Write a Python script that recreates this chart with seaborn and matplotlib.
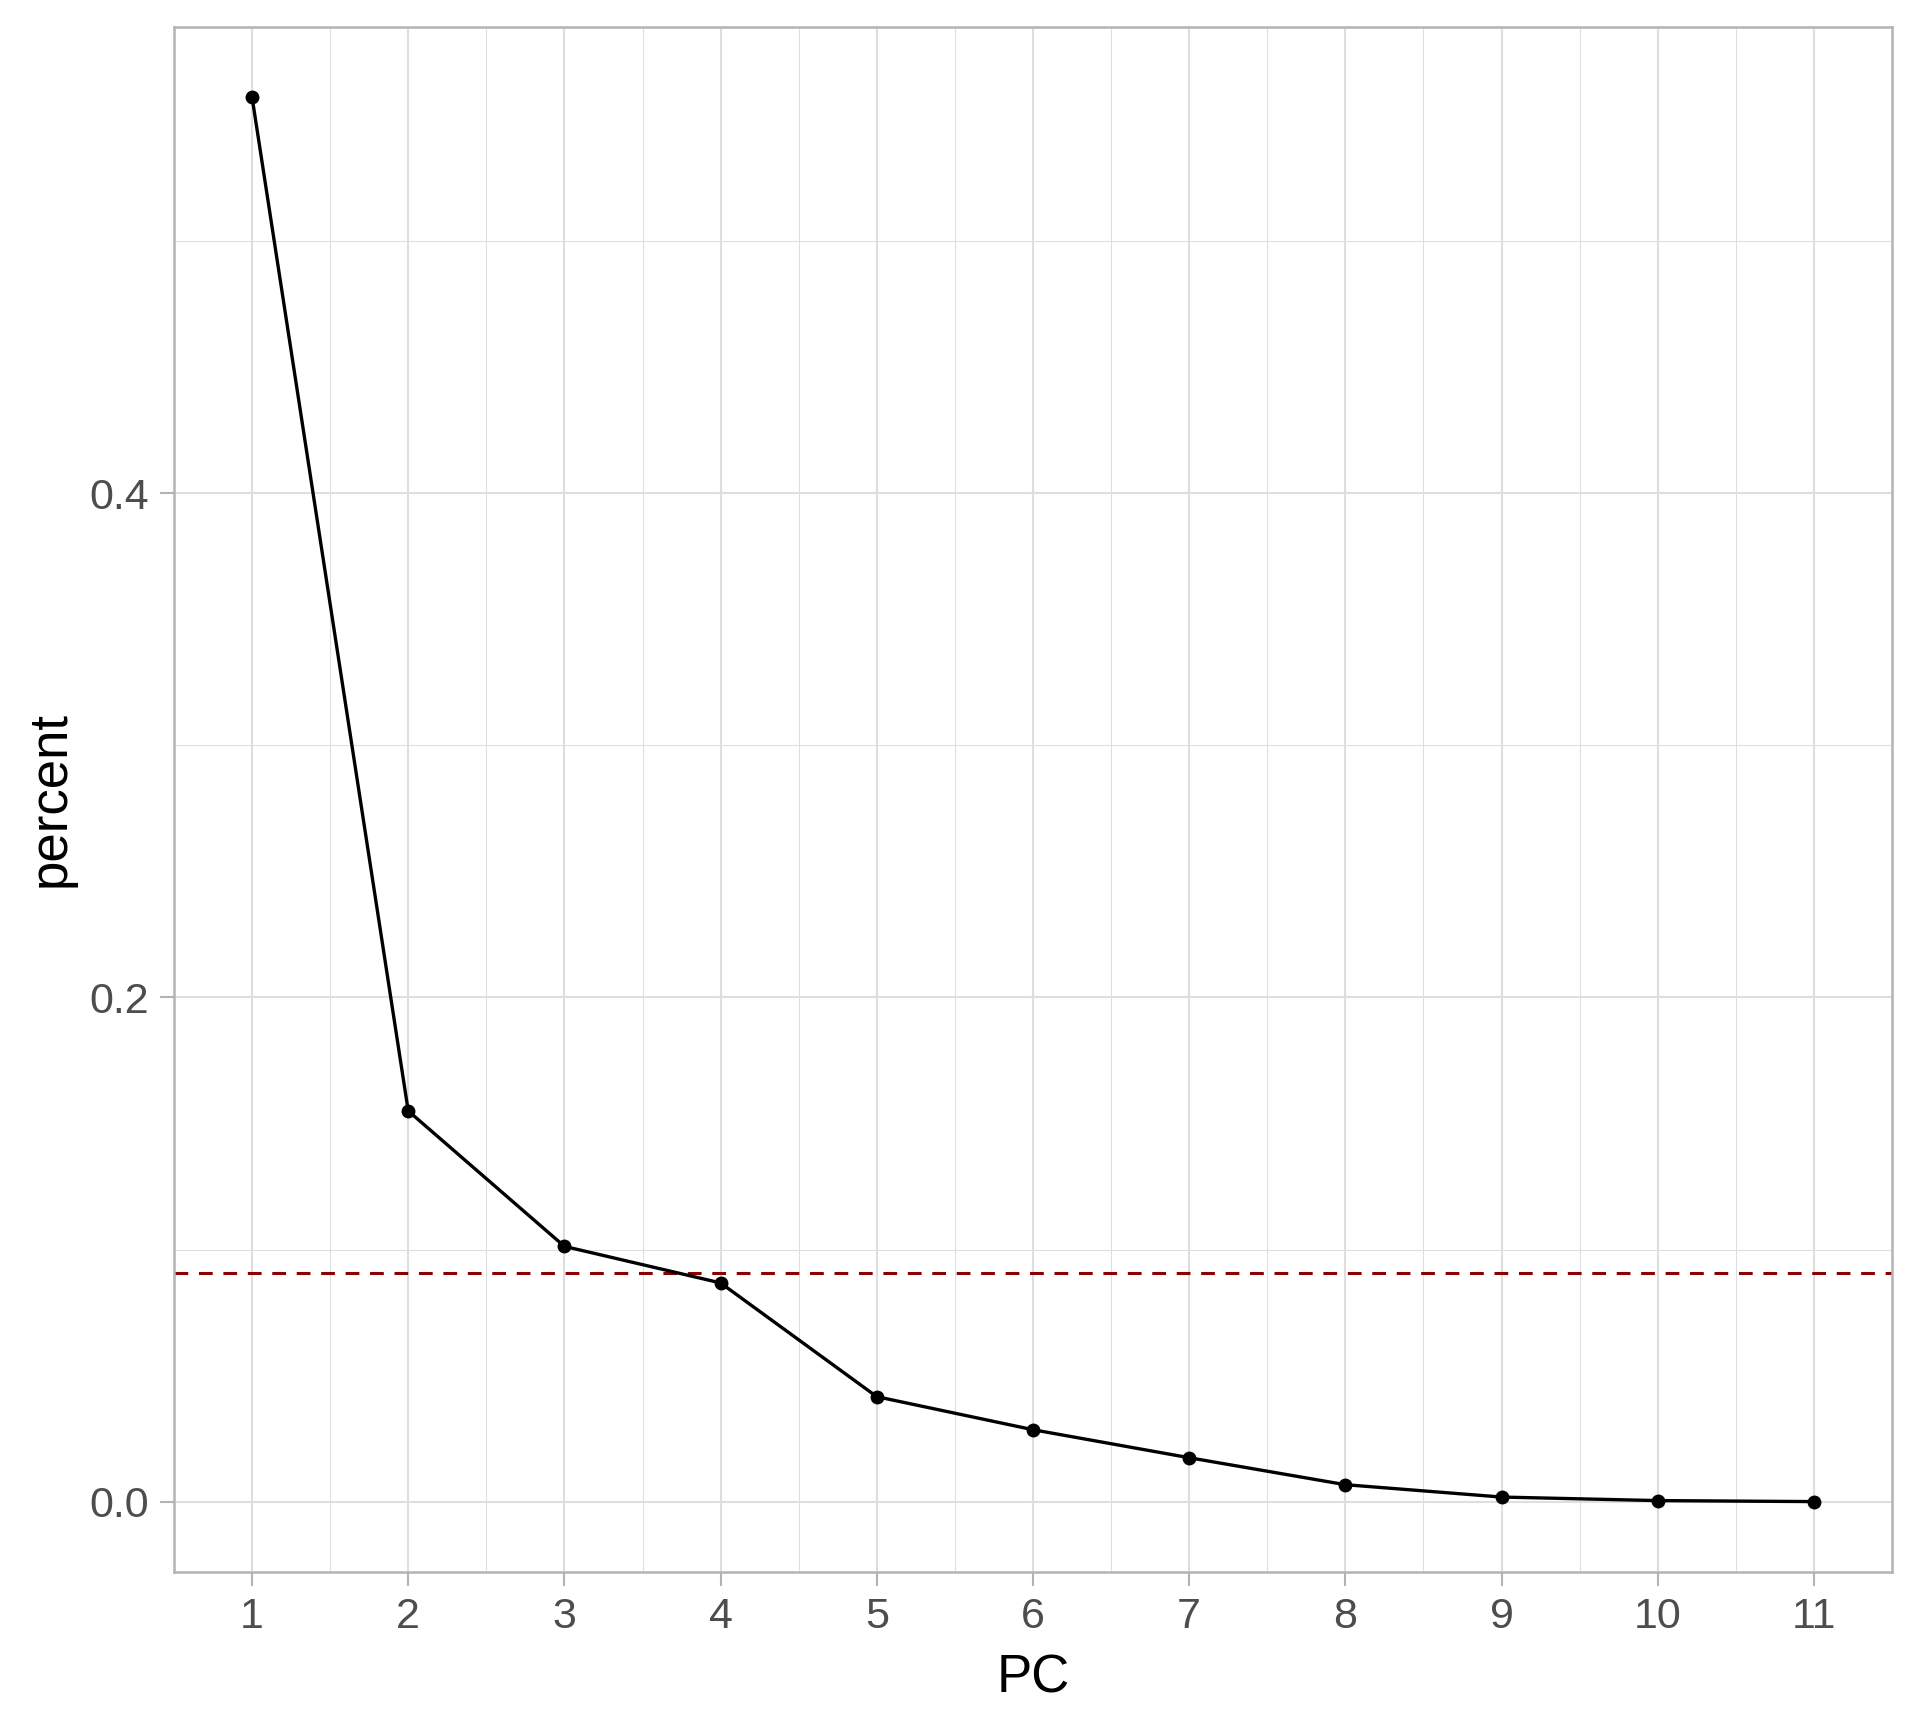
import pandas as pd
import matplotlib.pyplot as plt
from matplotlib.ticker import MultipleLocator
import seaborn as sns

# explained variance per principal component
pc = [1, 2, 3, 4, 5, 6, 7, 8, 9, 10, 11]
percent = [0.557, 0.155, 0.1013, 0.0868, 0.0417, 0.0286, 0.0175, 0.0068, 0.0019, 0.0005, 0.0001]
mean_line = 1 / 11

df = pd.DataFrame({"PC": pc, "percent": percent})

sns.set_style("whitegrid")
plt.rcParams["font.family"] = ["Liberation Sans", "DejaVu Sans"]

fig = plt.figure(figsize=(9.6, 8.64), dpi=200)
ax = fig.add_axes([0.0906, 0.0903, 0.8948, 0.8941])

sns.lineplot(
    data=df,
    x="PC",
    y="percent",
    color="black",
    linewidth=1.2,
    marker="o",
    markersize=5,
    markeredgewidth=0,
    ax=ax,
    zorder=3
)

ax.axhline(mean_line, color="#8B0000", linewidth=1.1, linestyle=(0, (4.5, 3.5)), zorder=2)

ax.set_xlim(0.5, 11.5)
ax.set_ylim(-0.0278, 0.5848)
ax.set_xticks(pc)
ax.yaxis.set_major_locator(MultipleLocator(0.2))
ax.yaxis.set_major_formatter(plt.FuncFormatter(lambda v, p: f"{v:.1f}"))
ax.xaxis.set_minor_locator(MultipleLocator(0.5))
ax.yaxis.set_minor_locator(MultipleLocator(0.1))

ax.grid(which="major", color="#DEDEDE", linewidth=0.75)
ax.grid(which="minor", color="#DEDEDE", linewidth=0.38)
ax.set_axisbelow(True)

for s in ax.spines.values():
    s.set_color("#B3B3B3")
    s.set_linewidth(0.9)

ax.tick_params(which="major", length=5, width=0.75, color="#B3B3B3",
               labelsize=15.5, labelcolor="#4D4D4D", pad=4, bottom=True, left=True)
ax.tick_params(which="minor", length=0)

ax.set_xlabel("PC", fontsize=19, color="black", labelpad=6)
ax.set_ylabel("percent", fontsize=19, color="black", labelpad=5)

plt.savefig("out.png", dpi=200)
